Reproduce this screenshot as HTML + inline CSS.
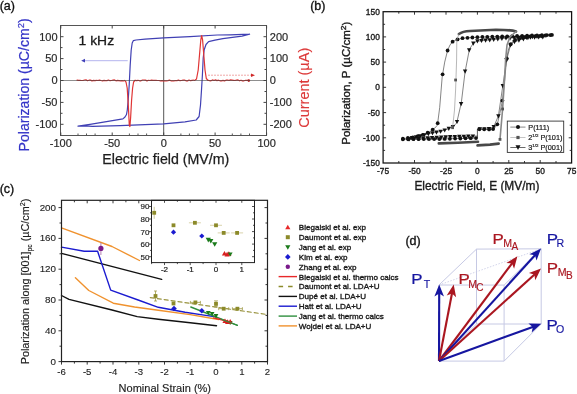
<!DOCTYPE html>
<html><head><meta charset="utf-8"><style>
html,body{margin:0;padding:0;background:#fff;width:577px;height:394px;overflow:hidden;}
svg{display:block;will-change:transform;font-family:"Liberation Sans", sans-serif;}
</style></head><body>
<svg width="577" height="394" viewBox="0 0 577 394">
<rect width="577" height="394" fill="#fff"/>
<text x="-0.3" y="10.2" font-size="12.5" text-anchor="start" fill="#111"  stroke="#111" stroke-width="0.35">(a)</text>
<line x1="163.7" y1="25.5" x2="163.7" y2="135.5" stroke="#555" stroke-width="1" />
<rect x="60.5" y="25.5" width="206.0" height="110.0" fill="none" stroke="#555" stroke-width="1"/>
<line x1="60.5" y1="124.3" x2="63.5" y2="124.3" stroke="#444" stroke-width="1" />
<line x1="266.5" y1="124.3" x2="263.5" y2="124.3" stroke="#444" stroke-width="1" />
<line x1="60.5" y1="113.3" x2="62.5" y2="113.3" stroke="#444" stroke-width="1" />
<line x1="266.5" y1="113.3" x2="264.5" y2="113.3" stroke="#444" stroke-width="1" />
<line x1="60.5" y1="102.4" x2="63.5" y2="102.4" stroke="#444" stroke-width="1" />
<line x1="266.5" y1="102.4" x2="263.5" y2="102.4" stroke="#444" stroke-width="1" />
<line x1="60.5" y1="91.5" x2="62.5" y2="91.5" stroke="#444" stroke-width="1" />
<line x1="266.5" y1="91.5" x2="264.5" y2="91.5" stroke="#444" stroke-width="1" />
<line x1="60.5" y1="80.5" x2="63.5" y2="80.5" stroke="#444" stroke-width="1" />
<line x1="266.5" y1="80.5" x2="263.5" y2="80.5" stroke="#444" stroke-width="1" />
<line x1="60.5" y1="69.5" x2="62.5" y2="69.5" stroke="#444" stroke-width="1" />
<line x1="266.5" y1="69.5" x2="264.5" y2="69.5" stroke="#444" stroke-width="1" />
<line x1="60.5" y1="58.6" x2="63.5" y2="58.6" stroke="#444" stroke-width="1" />
<line x1="266.5" y1="58.6" x2="263.5" y2="58.6" stroke="#444" stroke-width="1" />
<line x1="60.5" y1="47.6" x2="62.5" y2="47.6" stroke="#444" stroke-width="1" />
<line x1="266.5" y1="47.6" x2="264.5" y2="47.6" stroke="#444" stroke-width="1" />
<line x1="60.5" y1="36.7" x2="63.5" y2="36.7" stroke="#444" stroke-width="1" />
<line x1="266.5" y1="36.7" x2="263.5" y2="36.7" stroke="#444" stroke-width="1" />
<line x1="60.8" y1="135.5" x2="60.8" y2="132.5" stroke="#444" stroke-width="1" />
<line x1="60.8" y1="25.5" x2="60.8" y2="28.5" stroke="#444" stroke-width="1" />
<line x1="78.0" y1="135.5" x2="78.0" y2="133.5" stroke="#555" stroke-width="1" />
<line x1="86.5" y1="135.5" x2="86.5" y2="133.5" stroke="#555" stroke-width="1" />
<line x1="95.1" y1="135.5" x2="95.1" y2="133.5" stroke="#555" stroke-width="1" />
<line x1="112.2" y1="135.5" x2="112.2" y2="132.5" stroke="#444" stroke-width="1" />
<line x1="112.2" y1="25.5" x2="112.2" y2="28.5" stroke="#444" stroke-width="1" />
<line x1="129.4" y1="135.5" x2="129.4" y2="133.5" stroke="#555" stroke-width="1" />
<line x1="138.0" y1="135.5" x2="138.0" y2="133.5" stroke="#555" stroke-width="1" />
<line x1="146.6" y1="135.5" x2="146.6" y2="133.5" stroke="#555" stroke-width="1" />
<line x1="163.7" y1="135.5" x2="163.7" y2="132.5" stroke="#444" stroke-width="1" />
<line x1="163.7" y1="25.5" x2="163.7" y2="28.5" stroke="#444" stroke-width="1" />
<line x1="180.9" y1="135.5" x2="180.9" y2="133.5" stroke="#555" stroke-width="1" />
<line x1="189.4" y1="135.5" x2="189.4" y2="133.5" stroke="#555" stroke-width="1" />
<line x1="198.0" y1="135.5" x2="198.0" y2="133.5" stroke="#555" stroke-width="1" />
<line x1="215.1" y1="135.5" x2="215.1" y2="132.5" stroke="#444" stroke-width="1" />
<line x1="215.1" y1="25.5" x2="215.1" y2="28.5" stroke="#444" stroke-width="1" />
<line x1="232.3" y1="135.5" x2="232.3" y2="133.5" stroke="#555" stroke-width="1" />
<line x1="240.9" y1="135.5" x2="240.9" y2="133.5" stroke="#555" stroke-width="1" />
<line x1="249.5" y1="135.5" x2="249.5" y2="133.5" stroke="#555" stroke-width="1" />
<line x1="266.6" y1="135.5" x2="266.6" y2="132.5" stroke="#444" stroke-width="1" />
<line x1="266.6" y1="25.5" x2="266.6" y2="28.5" stroke="#444" stroke-width="1" />
<text x="57.5" y="40.5" font-size="11" text-anchor="end" fill="#2a2a2a"  stroke="#2a2a2a" stroke-width="0.2">100</text>
<text x="57.5" y="62.4" font-size="11" text-anchor="end" fill="#2a2a2a"  stroke="#2a2a2a" stroke-width="0.2">50</text>
<text x="57.5" y="84.3" font-size="11" text-anchor="end" fill="#2a2a2a"  stroke="#2a2a2a" stroke-width="0.2">0</text>
<text x="57.5" y="106.2" font-size="11" text-anchor="end" fill="#2a2a2a"  stroke="#2a2a2a" stroke-width="0.2">-50</text>
<text x="57.5" y="128.1" font-size="11" text-anchor="end" fill="#2a2a2a"  stroke="#2a2a2a" stroke-width="0.2">-100</text>
<text x="269.8" y="40.5" font-size="11" text-anchor="start" fill="#2a2a2a"  stroke="#2a2a2a" stroke-width="0.2">200</text>
<text x="269.8" y="62.4" font-size="11" text-anchor="start" fill="#2a2a2a"  stroke="#2a2a2a" stroke-width="0.2">100</text>
<text x="269.8" y="84.3" font-size="11" text-anchor="start" fill="#2a2a2a"  stroke="#2a2a2a" stroke-width="0.2">0</text>
<text x="269.8" y="106.2" font-size="11" text-anchor="start" fill="#2a2a2a"  stroke="#2a2a2a" stroke-width="0.2">-100</text>
<text x="269.8" y="128.1" font-size="11" text-anchor="start" fill="#2a2a2a"  stroke="#2a2a2a" stroke-width="0.2">-200</text>
<text x="60.8" y="147.2" font-size="11" text-anchor="middle" fill="#2a2a2a"  stroke="#2a2a2a" stroke-width="0.2">-100</text>
<text x="112.2" y="147.2" font-size="11" text-anchor="middle" fill="#2a2a2a"  stroke="#2a2a2a" stroke-width="0.2">-50</text>
<text x="163.7" y="147.2" font-size="11" text-anchor="middle" fill="#2a2a2a"  stroke="#2a2a2a" stroke-width="0.2">0</text>
<text x="215.1" y="147.2" font-size="11" text-anchor="middle" fill="#2a2a2a"  stroke="#2a2a2a" stroke-width="0.2">50</text>
<text x="266.6" y="147.2" font-size="11" text-anchor="middle" fill="#2a2a2a"  stroke="#2a2a2a" stroke-width="0.2">100</text>
<text x="165.8" y="163.6" font-size="13.8" text-anchor="middle" fill="#1e1e1e"  textLength="127" lengthAdjust="spacingAndGlyphs" stroke="#1e1e1e" stroke-width="0.25">Electric field (MV/m)</text>
<text transform="translate(29.4,84.9) rotate(-90)" font-size="14.2" text-anchor="middle" fill="#3535c8" textLength="133" lengthAdjust="spacingAndGlyphs" stroke="#3535c8" stroke-width="0.2">Polarization (µC/cm<tspan font-size="9.5" dy="-5.5">2</tspan><tspan dy="5.5">)</tspan></text>
<text transform="translate(308.6,87.8) rotate(-90)" font-size="13.8" text-anchor="middle" fill="#dd3a3a" textLength="80" lengthAdjust="spacingAndGlyphs" stroke="#dd3a3a" stroke-width="0.15">Current (µA)</text>
<text x="78.6" y="45.0" font-size="13.4" text-anchor="start" fill="#1a1a1a"  textLength="35.5" lengthAdjust="spacingAndGlyphs" stroke="#1a1a1a" stroke-width="0.3">1 kHz</text>
<polyline points="249.6,34.2 230.0,34.8 217.2,35.0 190.0,36.6 163.7,37.9 145.0,39.2 136.0,40.0 133.4,40.6 132.2,43.0 131.2,50.0 130.2,65.0 129.2,85.0 128.2,100.0 127.3,110.0 126.5,114.5 125.0,117.0 122.9,118.9 105.0,121.8 90.0,124.3 78.0,126.1 85.0,125.8 92.4,126.4 120.0,125.6 163.7,123.8 185.0,121.8 196.2,120.0 199.1,116.5 200.5,105.0 201.5,90.0 202.4,75.0 203.2,58.0 204.2,49.8 206.0,44.5 208.6,41.6 215.0,40.2 222.9,38.6 242.0,36.2 249.6,34.2" fill="none" stroke="#4040b4" stroke-width="1.2" stroke-linejoin="round" stroke-linecap="round" />
<polyline points="77.0,80.1 78.5,80.4 80.0,80.3 81.5,80.5 83.0,80.5 84.5,80.0 86.0,79.9 87.5,80.7 89.0,80.2 90.5,80.1 92.0,80.9 93.5,80.4 95.0,80.7 96.5,80.4 98.0,80.5 99.5,80.1 101.0,80.5 102.5,80.8 104.0,80.4 105.5,80.6 107.0,80.6 108.5,80.0 110.0,80.7 111.5,80.5 113.0,80.2 114.5,79.9 116.0,80.8 117.5,80.4 119.0,80.6 120.5,80.8 122.0,80.6 123.5,80.8" fill="none" stroke="#e03535" stroke-width="1.2" stroke-linejoin="round" stroke-linecap="round" />
<polyline points="124.5,80.4 126.0,82.0 127.2,88.0 128.3,105.0 129.3,125.5 129.9,126.5 130.6,118.0 131.6,100.0 132.6,88.0 133.6,82.0 135.0,80.4" fill="none" stroke="#e03535" stroke-width="1.2" stroke-linejoin="round" stroke-linecap="round" />
<polyline points="135.0,80.3 136.5,80.7 138.0,80.3 139.5,80.8 141.0,80.8 142.5,80.0 144.0,80.0 145.5,80.1 147.0,80.9 148.5,80.3 150.0,80.5 151.5,80.2 153.0,80.4 154.5,80.3 156.0,80.3 157.5,80.5 159.0,80.5 160.5,80.8 162.0,80.6 163.5,80.8 165.0,80.8 166.5,80.9 168.0,80.6 169.5,80.1 171.0,80.8 172.5,80.9 174.0,80.8 175.5,80.5 177.0,80.6 178.5,80.1 180.0,80.7 181.5,80.5 183.0,80.2 184.5,80.0 186.0,80.8 187.5,80.9 189.0,80.0 190.5,80.7 192.0,80.3 193.5,80.1" fill="none" stroke="#e03535" stroke-width="1.2" stroke-linejoin="round" stroke-linecap="round" />
<polyline points="194.5,80.4 196.5,79.0 198.2,70.0 199.5,55.0 200.8,40.0 201.6,35.5 202.6,40.0 203.8,55.0 205.0,70.0 206.3,78.5 208.0,80.4" fill="none" stroke="#e03535" stroke-width="1.2" stroke-linejoin="round" stroke-linecap="round" />
<polyline points="208.0,80.2 209.5,80.7 211.0,80.8 212.5,79.9 214.0,80.5 215.5,79.9 217.0,80.6 218.5,80.2 220.0,80.8 221.5,80.9 223.0,80.4 224.5,80.9 226.0,80.2 227.5,80.0 229.0,80.5 230.5,79.9 232.0,80.1 233.5,80.3 235.0,80.5 236.5,80.1 238.0,79.9 239.5,80.8 241.0,80.2 242.5,80.9 244.0,80.8 245.5,80.3 247.0,80.4 248.5,80.4" fill="none" stroke="#e03535" stroke-width="1.2" stroke-linejoin="round" stroke-linecap="round" />
<circle cx="248.8" cy="80.6" r="1.3" fill="#c02020"/>
<line x1="60.5" y1="80.5" x2="266.5" y2="80.5" stroke="#444" stroke-width="1" stroke-opacity="0.6"/>
<line x1="84.0" y1="60.7" x2="127.7" y2="60.7" stroke="#b4b4ee" stroke-width="1" />
<path d="M81.2,60.7 L85,58.8 L85,62.6 Z" fill="#4040b8"/>
<line x1="208.0" y1="75.2" x2="253.0" y2="75.2" stroke="#f0a8a8" stroke-width="1" stroke-dasharray="2,1"/>
<path d="M251,73.4 L255,75.2 L251,77 Z" fill="#d02828"/>
<text x="310.2" y="10.3" font-size="12.5" text-anchor="start" fill="#111"  stroke="#111" stroke-width="0.35">(b)</text>
<rect x="383.1" y="11.7" width="188.5" height="151.3" fill="none" stroke="#111" stroke-width="1.25"/>
<line x1="383.1" y1="150.4" x2="385.1" y2="150.4" stroke="#222" stroke-width="0.9" />
<line x1="571.7" y1="150.4" x2="569.7" y2="150.4" stroke="#222" stroke-width="0.9" />
<line x1="383.1" y1="137.8" x2="386.1" y2="137.8" stroke="#222" stroke-width="0.9" />
<line x1="571.7" y1="137.8" x2="568.7" y2="137.8" stroke="#222" stroke-width="0.9" />
<line x1="383.1" y1="125.2" x2="385.1" y2="125.2" stroke="#222" stroke-width="0.9" />
<line x1="571.7" y1="125.2" x2="569.7" y2="125.2" stroke="#222" stroke-width="0.9" />
<line x1="383.1" y1="112.6" x2="386.1" y2="112.6" stroke="#222" stroke-width="0.9" />
<line x1="571.7" y1="112.6" x2="568.7" y2="112.6" stroke="#222" stroke-width="0.9" />
<line x1="383.1" y1="100.0" x2="385.1" y2="100.0" stroke="#222" stroke-width="0.9" />
<line x1="571.7" y1="100.0" x2="569.7" y2="100.0" stroke="#222" stroke-width="0.9" />
<line x1="383.1" y1="87.3" x2="386.1" y2="87.3" stroke="#222" stroke-width="0.9" />
<line x1="571.7" y1="87.3" x2="568.7" y2="87.3" stroke="#222" stroke-width="0.9" />
<line x1="383.1" y1="74.7" x2="385.1" y2="74.7" stroke="#222" stroke-width="0.9" />
<line x1="571.7" y1="74.7" x2="569.7" y2="74.7" stroke="#222" stroke-width="0.9" />
<line x1="383.1" y1="62.1" x2="386.1" y2="62.1" stroke="#222" stroke-width="0.9" />
<line x1="571.7" y1="62.1" x2="568.7" y2="62.1" stroke="#222" stroke-width="0.9" />
<line x1="383.1" y1="49.5" x2="385.1" y2="49.5" stroke="#222" stroke-width="0.9" />
<line x1="571.7" y1="49.5" x2="569.7" y2="49.5" stroke="#222" stroke-width="0.9" />
<line x1="383.1" y1="36.9" x2="386.1" y2="36.9" stroke="#222" stroke-width="0.9" />
<line x1="571.7" y1="36.9" x2="568.7" y2="36.9" stroke="#222" stroke-width="0.9" />
<line x1="383.1" y1="24.3" x2="385.1" y2="24.3" stroke="#222" stroke-width="0.9" />
<line x1="571.7" y1="24.3" x2="569.7" y2="24.3" stroke="#222" stroke-width="0.9" />
<line x1="398.8" y1="163.0" x2="398.8" y2="161.0" stroke="#222" stroke-width="0.9" />
<line x1="398.8" y1="11.7" x2="398.8" y2="13.7" stroke="#222" stroke-width="0.9" />
<line x1="414.5" y1="163.0" x2="414.5" y2="160.0" stroke="#222" stroke-width="0.9" />
<line x1="414.5" y1="11.7" x2="414.5" y2="14.7" stroke="#222" stroke-width="0.9" />
<line x1="430.3" y1="163.0" x2="430.3" y2="161.0" stroke="#222" stroke-width="0.9" />
<line x1="430.3" y1="11.7" x2="430.3" y2="13.7" stroke="#222" stroke-width="0.9" />
<line x1="446.0" y1="163.0" x2="446.0" y2="160.0" stroke="#222" stroke-width="0.9" />
<line x1="446.0" y1="11.7" x2="446.0" y2="14.7" stroke="#222" stroke-width="0.9" />
<line x1="461.7" y1="163.0" x2="461.7" y2="161.0" stroke="#222" stroke-width="0.9" />
<line x1="461.7" y1="11.7" x2="461.7" y2="13.7" stroke="#222" stroke-width="0.9" />
<line x1="477.4" y1="163.0" x2="477.4" y2="160.0" stroke="#222" stroke-width="0.9" />
<line x1="477.4" y1="11.7" x2="477.4" y2="14.7" stroke="#222" stroke-width="0.9" />
<line x1="493.1" y1="163.0" x2="493.1" y2="161.0" stroke="#222" stroke-width="0.9" />
<line x1="493.1" y1="11.7" x2="493.1" y2="13.7" stroke="#222" stroke-width="0.9" />
<line x1="508.8" y1="163.0" x2="508.8" y2="160.0" stroke="#222" stroke-width="0.9" />
<line x1="508.8" y1="11.7" x2="508.8" y2="14.7" stroke="#222" stroke-width="0.9" />
<line x1="524.5" y1="163.0" x2="524.5" y2="161.0" stroke="#222" stroke-width="0.9" />
<line x1="524.5" y1="11.7" x2="524.5" y2="13.7" stroke="#222" stroke-width="0.9" />
<line x1="540.2" y1="163.0" x2="540.2" y2="160.0" stroke="#222" stroke-width="0.9" />
<line x1="540.2" y1="11.7" x2="540.2" y2="14.7" stroke="#222" stroke-width="0.9" />
<line x1="556.0" y1="163.0" x2="556.0" y2="161.0" stroke="#222" stroke-width="0.9" />
<line x1="556.0" y1="11.7" x2="556.0" y2="13.7" stroke="#222" stroke-width="0.9" />
<text x="379.8" y="166.0" font-size="8.4" text-anchor="end" fill="#1a1a1a"  stroke="#1a1a1a" stroke-width="0.35">-150</text>
<text x="379.8" y="140.8" font-size="8.4" text-anchor="end" fill="#1a1a1a"  stroke="#1a1a1a" stroke-width="0.35">-100</text>
<text x="379.8" y="115.6" font-size="8.4" text-anchor="end" fill="#1a1a1a"  stroke="#1a1a1a" stroke-width="0.35">-50</text>
<text x="379.8" y="90.3" font-size="8.4" text-anchor="end" fill="#1a1a1a"  stroke="#1a1a1a" stroke-width="0.35">0</text>
<text x="379.8" y="65.1" font-size="8.4" text-anchor="end" fill="#1a1a1a"  stroke="#1a1a1a" stroke-width="0.35">50</text>
<text x="379.8" y="39.9" font-size="8.4" text-anchor="end" fill="#1a1a1a"  stroke="#1a1a1a" stroke-width="0.35">100</text>
<text x="379.8" y="14.7" font-size="8.4" text-anchor="end" fill="#1a1a1a"  stroke="#1a1a1a" stroke-width="0.35">150</text>
<text x="383.1" y="173.8" font-size="8.4" text-anchor="middle" fill="#1a1a1a"  stroke="#1a1a1a" stroke-width="0.35">-75</text>
<text x="414.5" y="173.8" font-size="8.4" text-anchor="middle" fill="#1a1a1a"  stroke="#1a1a1a" stroke-width="0.35">-50</text>
<text x="446.0" y="173.8" font-size="8.4" text-anchor="middle" fill="#1a1a1a"  stroke="#1a1a1a" stroke-width="0.35">-25</text>
<text x="477.4" y="173.8" font-size="8.4" text-anchor="middle" fill="#1a1a1a"  stroke="#1a1a1a" stroke-width="0.35">0</text>
<text x="508.8" y="173.8" font-size="8.4" text-anchor="middle" fill="#1a1a1a"  stroke="#1a1a1a" stroke-width="0.35">25</text>
<text x="540.2" y="173.8" font-size="8.4" text-anchor="middle" fill="#1a1a1a"  stroke="#1a1a1a" stroke-width="0.35">50</text>
<text x="571.7" y="173.8" font-size="8.4" text-anchor="middle" fill="#1a1a1a"  stroke="#1a1a1a" stroke-width="0.35">75</text>
<text x="476.9" y="190.4" font-size="12.2" text-anchor="middle" fill="#1a1a1a"  textLength="125" lengthAdjust="spacingAndGlyphs" stroke="#1a1a1a" stroke-width="0.35">Electric Field, E (MV/m)</text>
<text transform="translate(350.1,83.2) rotate(-90)" font-size="10.4" text-anchor="middle" fill="#1a1a1a" textLength="123" lengthAdjust="spacingAndGlyphs" stroke="#1a1a1a" stroke-width="0.35">Polarization, P (µC/cm<tspan font-size="7.6" dy="-4.5">2</tspan><tspan dy="4.5">)</tspan></text>
<polyline points="552.8,34.9 527.7,35.7 502.5,36.4 477.4,37.2 462.3,38.2 457.5,39.4 452.6,41.6 450.0,45.0 447.7,50.0 444.7,62.1 442.2,76.9 439.7,107.5 437.4,125.2 434.7,128.2 429.6,131.7 424.6,134.2 414.5,137.0 402.0,138.8" fill="none" stroke="#333" stroke-width="0.6" stroke-linejoin="round" stroke-linecap="round" />
<polyline points="402.0,139.3 439.7,139.0 477.4,138.0" fill="none" stroke="#333" stroke-width="0.6" stroke-linejoin="round" stroke-linecap="round" />
<polyline points="477.4,129.2 492.5,129.5 495.0,127.7 497.3,124.3 499.8,113.6 502.4,100.6 504.7,79.8 506.7,58.3 508.3,50.0 510.1,45.0 513.2,41.0 517.6,38.4 527.7,36.7 552.8,34.9" fill="none" stroke="#333" stroke-width="0.6" stroke-linejoin="round" stroke-linecap="round" />
<line x1="477.4" y1="137.8" x2="477.4" y2="129.2" stroke="#333" stroke-width="0.8" />
<circle cx="551.9" cy="34.9" r="1.9" fill="#111"/>
<circle cx="546.9" cy="35.1" r="1.9" fill="#111"/>
<circle cx="541.9" cy="35.2" r="1.9" fill="#111"/>
<circle cx="537.0" cy="35.4" r="1.9" fill="#111"/>
<circle cx="532.0" cy="35.5" r="1.9" fill="#111"/>
<circle cx="527.1" cy="35.7" r="1.9" fill="#111"/>
<circle cx="522.1" cy="35.8" r="1.9" fill="#111"/>
<circle cx="517.1" cy="36.0" r="1.9" fill="#111"/>
<circle cx="512.2" cy="36.1" r="1.9" fill="#111"/>
<circle cx="507.2" cy="36.3" r="1.9" fill="#111"/>
<circle cx="502.2" cy="36.4" r="1.9" fill="#111"/>
<circle cx="497.3" cy="36.6" r="1.9" fill="#111"/>
<circle cx="492.3" cy="36.7" r="1.9" fill="#111"/>
<circle cx="487.3" cy="36.9" r="1.9" fill="#111"/>
<circle cx="482.4" cy="37.0" r="1.9" fill="#111"/>
<circle cx="477.4" cy="37.2" r="1.9" fill="#111"/>
<circle cx="472.4" cy="37.5" r="1.9" fill="#111"/>
<circle cx="467.5" cy="37.8" r="1.9" fill="#111"/>
<circle cx="462.5" cy="38.2" r="1.9" fill="#111"/>
<circle cx="457.5" cy="39.4" r="1.9" fill="#111"/>
<circle cx="452.6" cy="41.7" r="1.9" fill="#111"/>
<circle cx="447.6" cy="50.5" r="1.9" fill="#111"/>
<circle cx="442.6" cy="74.3" r="1.9" fill="#111"/>
<circle cx="437.7" cy="123.2" r="1.9" fill="#111"/>
<circle cx="432.7" cy="129.6" r="1.9" fill="#111"/>
<circle cx="427.7" cy="132.7" r="1.9" fill="#111"/>
<circle cx="422.8" cy="134.8" r="1.9" fill="#111"/>
<circle cx="417.8" cy="136.1" r="1.9" fill="#111"/>
<circle cx="412.9" cy="137.3" r="1.9" fill="#111"/>
<circle cx="407.9" cy="138.0" r="1.9" fill="#111"/>
<circle cx="402.9" cy="138.7" r="1.9" fill="#111"/>
<circle cx="402.9" cy="139.3" r="1.9" fill="#111"/>
<circle cx="408.1" cy="139.3" r="1.9" fill="#111"/>
<circle cx="413.4" cy="139.2" r="1.9" fill="#111"/>
<circle cx="418.6" cy="139.2" r="1.9" fill="#111"/>
<circle cx="423.8" cy="139.1" r="1.9" fill="#111"/>
<circle cx="429.0" cy="139.1" r="1.9" fill="#111"/>
<circle cx="434.2" cy="139.1" r="1.9" fill="#111"/>
<circle cx="439.4" cy="139.0" r="1.9" fill="#111"/>
<circle cx="444.7" cy="138.9" r="1.9" fill="#111"/>
<circle cx="449.9" cy="138.8" r="1.9" fill="#111"/>
<circle cx="455.1" cy="138.6" r="1.9" fill="#111"/>
<circle cx="460.3" cy="138.5" r="1.9" fill="#111"/>
<circle cx="465.5" cy="138.3" r="1.9" fill="#111"/>
<circle cx="470.7" cy="138.2" r="1.9" fill="#111"/>
<circle cx="476.0" cy="138.1" r="1.9" fill="#111"/>
<circle cx="479.3" cy="129.2" r="1.9" fill="#111"/>
<circle cx="484.2" cy="129.3" r="1.9" fill="#111"/>
<circle cx="489.1" cy="129.4" r="1.9" fill="#111"/>
<circle cx="493.1" cy="129.0" r="1.9" fill="#111"/>
<circle cx="497.3" cy="124.3" r="1.9" fill="#111"/>
<circle cx="502.4" cy="100.6" r="1.9" fill="#111"/>
<circle cx="506.7" cy="58.3" r="1.9" fill="#111"/>
<circle cx="510.7" cy="44.2" r="1.9" fill="#111"/>
<circle cx="515.1" cy="39.9" r="1.9" fill="#111"/>
<circle cx="520.1" cy="38.0" r="1.9" fill="#111"/>
<circle cx="525.2" cy="37.1" r="1.9" fill="#111"/>
<circle cx="530.2" cy="36.5" r="1.9" fill="#111"/>
<circle cx="535.2" cy="36.1" r="1.9" fill="#111"/>
<circle cx="540.2" cy="35.8" r="1.9" fill="#111"/>
<circle cx="545.3" cy="35.4" r="1.9" fill="#111"/>
<circle cx="550.3" cy="35.1" r="1.9" fill="#111"/>
<polyline points="546.5,36.9 527.7,37.4 505.6,38.2 490.0,39.9 477.4,41.1 473.5,43.0 469.4,49.3 465.1,71.7 461.3,102.8 456.7,123.0 452.5,127.0 446.0,129.7 439.7,131.7 428.9,133.6 419.6,136.3 408.3,138.5" fill="none" stroke="#333" stroke-width="0.6" stroke-linejoin="round" stroke-linecap="round" />
<polyline points="408.3,139.0 427.1,138.0 452.3,136.8 477.4,136.0" fill="none" stroke="#333" stroke-width="0.6" stroke-linejoin="round" stroke-linecap="round" />
<polyline points="477.4,129.2 490.0,128.7 493.7,126.7 498.4,116.0 502.8,85.8 506.6,60.1 510.5,45.0 512.6,42.5 521.4,39.4 532.1,36.9 544.0,35.9" fill="none" stroke="#333" stroke-width="0.6" stroke-linejoin="round" stroke-linecap="round" />
<path d="M544.6,136.8 L549.0,136.8 L546.8,141.0 Z" fill="#111"/>
<path d="M540.6,35.3 L545.0,35.3 L542.8,39.4 Z" fill="#111"/>
<path d="M536.5,35.4 L540.9,35.4 L538.7,39.6 Z" fill="#111"/>
<path d="M532.4,35.5 L536.8,35.5 L534.6,39.7 Z" fill="#111"/>
<path d="M528.3,35.6 L532.7,35.6 L530.5,39.8 Z" fill="#111"/>
<path d="M524.2,35.7 L528.6,35.7 L526.4,39.9 Z" fill="#111"/>
<path d="M520.1,35.8 L524.5,35.8 L522.3,40.0 Z" fill="#111"/>
<path d="M516.1,36.0 L520.5,36.0 L518.3,40.2 Z" fill="#111"/>
<path d="M512.0,36.1 L516.4,36.1 L514.2,40.3 Z" fill="#111"/>
<path d="M507.9,36.3 L512.3,36.3 L510.1,40.4 Z" fill="#111"/>
<path d="M503.8,36.4 L508.2,36.4 L506.0,40.6 Z" fill="#111"/>
<path d="M499.7,36.8 L504.1,36.8 L501.9,41.0 Z" fill="#111"/>
<path d="M495.6,37.3 L500.0,37.3 L497.8,41.5 Z" fill="#111"/>
<path d="M491.5,37.8 L495.9,37.8 L493.7,41.9 Z" fill="#111"/>
<path d="M487.5,38.2 L491.9,38.2 L489.7,42.4 Z" fill="#111"/>
<path d="M483.4,38.6 L487.8,38.6 L485.6,42.8 Z" fill="#111"/>
<path d="M479.3,39.0 L483.7,39.0 L481.5,43.1 Z" fill="#111"/>
<path d="M475.2,39.3 L479.6,39.3 L477.4,43.5 Z" fill="#111"/>
<path d="M471.1,41.5 L475.5,41.5 L473.3,45.7 Z" fill="#111"/>
<path d="M467.0,48.2 L471.4,48.2 L469.2,52.4 Z" fill="#111"/>
<path d="M462.9,69.6 L467.3,69.6 L465.1,73.8 Z" fill="#111"/>
<path d="M458.9,102.1 L463.3,102.1 L461.1,106.3 Z" fill="#111"/>
<path d="M454.8,119.9 L459.2,119.9 L457.0,124.1 Z" fill="#111"/>
<path d="M450.7,124.9 L455.1,124.9 L452.9,129.0 Z" fill="#111"/>
<path d="M446.6,126.8 L451.0,126.8 L448.8,131.0 Z" fill="#111"/>
<path d="M442.5,128.4 L446.9,128.4 L444.7,132.5 Z" fill="#111"/>
<path d="M438.4,129.7 L442.8,129.7 L440.6,133.8 Z" fill="#111"/>
<path d="M434.3,130.5 L438.7,130.5 L436.5,134.7 Z" fill="#111"/>
<path d="M430.3,131.2 L434.7,131.2 L432.5,135.4 Z" fill="#111"/>
<path d="M426.2,132.0 L430.6,132.0 L428.4,136.2 Z" fill="#111"/>
<path d="M422.1,133.2 L426.5,133.2 L424.3,137.3 Z" fill="#111"/>
<path d="M418.0,134.3 L422.4,134.3 L420.2,138.5 Z" fill="#111"/>
<path d="M413.9,135.2 L418.3,135.2 L416.1,139.4 Z" fill="#111"/>
<path d="M409.8,136.0 L414.2,136.0 L412.0,140.2 Z" fill="#111"/>
<path d="M407.3,137.2 L411.7,137.2 L409.5,141.4 Z" fill="#111"/>
<path d="M411.8,137.0 L416.2,137.0 L414.0,141.2 Z" fill="#111"/>
<path d="M416.4,136.7 L420.8,136.7 L418.6,140.9 Z" fill="#111"/>
<path d="M420.9,136.5 L425.3,136.5 L423.1,140.7 Z" fill="#111"/>
<path d="M425.4,136.2 L429.8,136.2 L427.6,140.4 Z" fill="#111"/>
<path d="M429.9,136.0 L434.3,136.0 L432.1,140.2 Z" fill="#111"/>
<path d="M434.5,135.8 L438.9,135.8 L436.7,140.0 Z" fill="#111"/>
<path d="M439.0,135.6 L443.4,135.6 L441.2,139.7 Z" fill="#111"/>
<path d="M443.5,135.3 L447.9,135.3 L445.7,139.5 Z" fill="#111"/>
<path d="M448.0,135.1 L452.4,135.1 L450.2,139.3 Z" fill="#111"/>
<path d="M452.6,134.9 L457.0,134.9 L454.8,139.1 Z" fill="#111"/>
<path d="M457.1,134.8 L461.5,134.8 L459.3,139.0 Z" fill="#111"/>
<path d="M461.6,134.7 L466.0,134.7 L463.8,138.8 Z" fill="#111"/>
<path d="M466.1,134.5 L470.5,134.5 L468.3,138.7 Z" fill="#111"/>
<path d="M470.7,134.4 L475.1,134.4 L472.9,138.6 Z" fill="#111"/>
<path d="M477.7,127.3 L482.1,127.3 L479.9,131.5 Z" fill="#111"/>
<path d="M482.2,127.2 L486.6,127.2 L484.4,131.3 Z" fill="#111"/>
<path d="M486.8,127.0 L491.2,127.0 L489.0,131.2 Z" fill="#111"/>
<path d="M491.5,124.9 L495.9,124.9 L493.7,129.1 Z" fill="#111"/>
<path d="M496.2,114.2 L500.6,114.2 L498.4,118.4 Z" fill="#111"/>
<path d="M500.6,84.1 L505.0,84.1 L502.8,88.3 Z" fill="#111"/>
<path d="M504.4,58.4 L508.8,58.4 L506.6,62.5 Z" fill="#111"/>
<path d="M508.3,43.2 L512.7,43.2 L510.5,47.4 Z" fill="#111"/>
<path d="M512.3,40.1 L516.7,40.1 L514.5,44.2 Z" fill="#111"/>
<path d="M516.7,38.5 L521.1,38.5 L518.9,42.7 Z" fill="#111"/>
<path d="M521.2,37.2 L525.6,37.2 L523.4,41.4 Z" fill="#111"/>
<path d="M525.7,36.1 L530.1,36.1 L527.9,40.3 Z" fill="#111"/>
<path d="M530.3,35.1 L534.7,35.1 L532.5,39.3 Z" fill="#111"/>
<path d="M534.8,34.7 L539.2,34.7 L537.0,38.9 Z" fill="#111"/>
<path d="M539.3,34.4 L543.7,34.4 L541.5,38.5 Z" fill="#111"/>
<path d="M458.9,34 C462,31.8 466,31.2 470,31 L495.9,29.8 C505,29.8 512,30 516,31.5" fill="none" stroke="#484848" stroke-width="2.6" stroke-linecap="round"/>
<polyline points="438.8,143.4 458.0,142.8 478.0,141.8" fill="none" stroke="#484848" stroke-width="2.6" stroke-linejoin="round" stroke-linecap="round" />
<polyline points="477.5,145.4 490.0,144.6 498.7,143.6" fill="none" stroke="#484848" stroke-width="2.6" stroke-linejoin="round" stroke-linecap="round" />
<polyline points="458.9,34.0 456.8,40.0 456.6,60.0 455.6,90.0 454.5,110.0 452.6,127.7" fill="none" stroke="#999" stroke-width="0.7" stroke-linejoin="round" stroke-linecap="round" />
<polyline points="500.0,139.4 502.6,109.0 504.5,80.0 505.6,60.0 507.0,45.0 510.0,37.0 516.0,31.5" fill="none" stroke="#888" stroke-width="1.6" stroke-linejoin="round" stroke-linecap="round" />
<rect x="454.2" y="78.6" width="2.8" height="2.8" fill="#555"/>
<rect x="451.2" y="126.3" width="2.8" height="2.8" fill="#555"/>
<rect x="498.6" y="138.0" width="2.8" height="2.8" fill="#555"/>
<rect x="501.2" y="107.6" width="2.8" height="2.8" fill="#555"/>
<rect x="507.3" y="121.1" width="56.4" height="31.3" fill="#fff" stroke="#333" stroke-width="0.9"/>
<line x1="510.3" y1="127.1" x2="525.5" y2="127.1" stroke="#555" stroke-width="0.7" />
<circle cx="518.0" cy="127.1" r="2.0" fill="#111"/>
<line x1="510.3" y1="137.5" x2="525.5" y2="137.5" stroke="#aaa" stroke-width="0.7" />
<rect x="516.4" y="135.9" width="3.2" height="3.2" fill="#555"/>
<line x1="510.3" y1="147.5" x2="525.5" y2="147.5" stroke="#444" stroke-width="0.8" />
<path d="M515.5,145.3 L520.5,145.3 L518.0,150.1 Z" fill="#111"/>
<text x="528.3" y="129.7" font-size="7.3" text-anchor="start" fill="#1a1a1a"  stroke="#1a1a1a" stroke-width="0.2">P(111)</text>
<text x="528.3" y="140.1" font-size="7.3" fill="#1a1a1a" stroke="#1a1a1a" stroke-width="0.2">2<tspan font-size="4.4" dy="-3">1/2</tspan><tspan dy="3"> P(101)</tspan></text>
<text x="528.3" y="150.1" font-size="7.3" fill="#1a1a1a" stroke="#1a1a1a" stroke-width="0.2">3<tspan font-size="4.4" dy="-3">1/2</tspan><tspan dy="3"> P(001)</tspan></text>
<text x="-0.3" y="192.9" font-size="12.5" text-anchor="start" fill="#111"  stroke="#111" stroke-width="0.35">(c)</text>
<line x1="61.5" y1="361.6" x2="61.5" y2="364.6" stroke="#222" stroke-width="0.9" />
<line x1="61.5" y1="200.3" x2="61.5" y2="203.3" stroke="#222" stroke-width="0.9" />
<line x1="74.4" y1="361.6" x2="74.4" y2="363.6" stroke="#222" stroke-width="0.9" />
<line x1="74.4" y1="200.3" x2="74.4" y2="202.3" stroke="#222" stroke-width="0.9" />
<line x1="87.2" y1="361.6" x2="87.2" y2="364.6" stroke="#222" stroke-width="0.9" />
<line x1="87.2" y1="200.3" x2="87.2" y2="203.3" stroke="#222" stroke-width="0.9" />
<line x1="100.1" y1="361.6" x2="100.1" y2="363.6" stroke="#222" stroke-width="0.9" />
<line x1="100.1" y1="200.3" x2="100.1" y2="202.3" stroke="#222" stroke-width="0.9" />
<line x1="113.0" y1="361.6" x2="113.0" y2="364.6" stroke="#222" stroke-width="0.9" />
<line x1="113.0" y1="200.3" x2="113.0" y2="203.3" stroke="#222" stroke-width="0.9" />
<line x1="125.9" y1="361.6" x2="125.9" y2="363.6" stroke="#222" stroke-width="0.9" />
<line x1="125.9" y1="200.3" x2="125.9" y2="202.3" stroke="#222" stroke-width="0.9" />
<line x1="138.8" y1="361.6" x2="138.8" y2="364.6" stroke="#222" stroke-width="0.9" />
<line x1="138.8" y1="200.3" x2="138.8" y2="203.3" stroke="#222" stroke-width="0.9" />
<line x1="151.6" y1="361.6" x2="151.6" y2="363.6" stroke="#222" stroke-width="0.9" />
<line x1="164.5" y1="361.6" x2="164.5" y2="364.6" stroke="#222" stroke-width="0.9" />
<line x1="177.4" y1="361.6" x2="177.4" y2="363.6" stroke="#222" stroke-width="0.9" />
<line x1="190.2" y1="361.6" x2="190.2" y2="364.6" stroke="#222" stroke-width="0.9" />
<line x1="203.1" y1="361.6" x2="203.1" y2="363.6" stroke="#222" stroke-width="0.9" />
<line x1="216.0" y1="361.6" x2="216.0" y2="364.6" stroke="#222" stroke-width="0.9" />
<line x1="228.9" y1="361.6" x2="228.9" y2="363.6" stroke="#222" stroke-width="0.9" />
<line x1="241.8" y1="361.6" x2="241.8" y2="364.6" stroke="#222" stroke-width="0.9" />
<line x1="254.6" y1="361.6" x2="254.6" y2="363.6" stroke="#222" stroke-width="0.9" />
<line x1="267.5" y1="361.6" x2="267.5" y2="364.6" stroke="#222" stroke-width="0.9" />
<line x1="267.5" y1="200.3" x2="267.5" y2="203.3" stroke="#222" stroke-width="0.9" />
<line x1="61.5" y1="361.6" x2="58.5" y2="361.6" stroke="#222" stroke-width="0.9" />
<line x1="267.5" y1="361.6" x2="264.5" y2="361.6" stroke="#222" stroke-width="0.9" />
<line x1="61.5" y1="346.2" x2="59.5" y2="346.2" stroke="#222" stroke-width="0.9" />
<line x1="267.5" y1="346.2" x2="265.5" y2="346.2" stroke="#222" stroke-width="0.9" />
<line x1="61.5" y1="330.8" x2="58.5" y2="330.8" stroke="#222" stroke-width="0.9" />
<line x1="267.5" y1="330.8" x2="264.5" y2="330.8" stroke="#222" stroke-width="0.9" />
<line x1="61.5" y1="315.4" x2="59.5" y2="315.4" stroke="#222" stroke-width="0.9" />
<line x1="267.5" y1="315.4" x2="265.5" y2="315.4" stroke="#222" stroke-width="0.9" />
<line x1="61.5" y1="300.0" x2="58.5" y2="300.0" stroke="#222" stroke-width="0.9" />
<line x1="267.5" y1="300.0" x2="264.5" y2="300.0" stroke="#222" stroke-width="0.9" />
<line x1="61.5" y1="284.6" x2="59.5" y2="284.6" stroke="#222" stroke-width="0.9" />
<line x1="267.5" y1="284.6" x2="265.5" y2="284.6" stroke="#222" stroke-width="0.9" />
<line x1="61.5" y1="269.2" x2="58.5" y2="269.2" stroke="#222" stroke-width="0.9" />
<line x1="267.5" y1="269.2" x2="264.5" y2="269.2" stroke="#222" stroke-width="0.9" />
<line x1="61.5" y1="253.8" x2="59.5" y2="253.8" stroke="#222" stroke-width="0.9" />
<line x1="267.5" y1="253.8" x2="265.5" y2="253.8" stroke="#222" stroke-width="0.9" />
<line x1="61.5" y1="238.4" x2="58.5" y2="238.4" stroke="#222" stroke-width="0.9" />
<line x1="267.5" y1="238.4" x2="264.5" y2="238.4" stroke="#222" stroke-width="0.9" />
<line x1="61.5" y1="223.0" x2="59.5" y2="223.0" stroke="#222" stroke-width="0.9" />
<line x1="267.5" y1="223.0" x2="265.5" y2="223.0" stroke="#222" stroke-width="0.9" />
<line x1="61.5" y1="207.6" x2="58.5" y2="207.6" stroke="#222" stroke-width="0.9" />
<line x1="267.5" y1="207.6" x2="264.5" y2="207.6" stroke="#222" stroke-width="0.9" />
<text x="56.0" y="364.6" font-size="9.8" text-anchor="end" fill="#1e1e1e"  stroke="#1e1e1e" stroke-width="0.12">0</text>
<text x="56.0" y="333.8" font-size="9.8" text-anchor="end" fill="#1e1e1e"  stroke="#1e1e1e" stroke-width="0.12">40</text>
<text x="56.0" y="303.0" font-size="9.8" text-anchor="end" fill="#1e1e1e"  stroke="#1e1e1e" stroke-width="0.12">80</text>
<text x="56.0" y="272.2" font-size="9.8" text-anchor="end" fill="#1e1e1e"  stroke="#1e1e1e" stroke-width="0.12">120</text>
<text x="56.0" y="241.4" font-size="9.8" text-anchor="end" fill="#1e1e1e"  stroke="#1e1e1e" stroke-width="0.12">160</text>
<text x="56.0" y="210.6" font-size="9.8" text-anchor="end" fill="#1e1e1e"  stroke="#1e1e1e" stroke-width="0.12">200</text>
<text x="61.5" y="375.0" font-size="9.6" text-anchor="middle" fill="#1e1e1e"  stroke="#1e1e1e" stroke-width="0.12">-6</text>
<text x="87.2" y="375.0" font-size="9.6" text-anchor="middle" fill="#1e1e1e"  stroke="#1e1e1e" stroke-width="0.12">-5</text>
<text x="113.0" y="375.0" font-size="9.6" text-anchor="middle" fill="#1e1e1e"  stroke="#1e1e1e" stroke-width="0.12">-4</text>
<text x="138.8" y="375.0" font-size="9.6" text-anchor="middle" fill="#1e1e1e"  stroke="#1e1e1e" stroke-width="0.12">-3</text>
<text x="164.5" y="375.0" font-size="9.6" text-anchor="middle" fill="#1e1e1e"  stroke="#1e1e1e" stroke-width="0.12">-2</text>
<text x="190.2" y="375.0" font-size="9.6" text-anchor="middle" fill="#1e1e1e"  stroke="#1e1e1e" stroke-width="0.12">-1</text>
<text x="216.0" y="375.0" font-size="9.6" text-anchor="middle" fill="#1e1e1e"  stroke="#1e1e1e" stroke-width="0.12">0</text>
<text x="241.8" y="375.0" font-size="9.6" text-anchor="middle" fill="#1e1e1e"  stroke="#1e1e1e" stroke-width="0.12">1</text>
<text x="267.5" y="375.0" font-size="9.6" text-anchor="middle" fill="#1e1e1e"  stroke="#1e1e1e" stroke-width="0.12">2</text>
<text x="164.8" y="391.6" font-size="10.4" text-anchor="middle" fill="#1e1e1e"  textLength="92.5" lengthAdjust="spacingAndGlyphs" stroke="#1e1e1e" stroke-width="0.15">Nominal Strain (%)</text>
<text transform="translate(29.2,281.5) rotate(-90)" font-size="10.3" text-anchor="middle" fill="#1e1e1e" textLength="165.5" lengthAdjust="spacingAndGlyphs" stroke="#1e1e1e" stroke-width="0.15">Polarization along [001]<tspan font-size="6.5" dy="2.5">pc</tspan><tspan dy="-2.5"> (µC/cm</tspan><tspan font-size="6.8" dy="-4">2</tspan><tspan dy="4">)</tspan></text>
<polyline points="61.5,227.9 112.0,246.5 139.5,260.5" fill="none" stroke="#f0922e" stroke-width="1.4" stroke-linejoin="round" stroke-linecap="round" />
<polyline points="61.5,253.4 161.7,279.4" fill="none" stroke="#111" stroke-width="1.4" stroke-linejoin="round" stroke-linecap="round" />
<polyline points="61.5,247.1 84.2,251.3 97.6,251.3 110.7,290.1 139.5,300.5 158.3,307.3 185.1,312.3 205.7,315.4 216.0,316.8" fill="none" stroke="#1b1bd0" stroke-width="1.4" stroke-linejoin="round" stroke-linecap="round" />
<polyline points="75.4,277.7 88.8,290.5 113.3,303.2 134.6,307.0 158.3,310.3 190.2,314.6 218.6,319.5" fill="none" stroke="#f0922e" stroke-width="1.4" stroke-linejoin="round" stroke-linecap="round" />
<polyline points="61.5,295.5 69.0,299.4 112.0,310.0 137.2,316.6 158.3,319.2 190.2,322.7 216.5,325.7" fill="none" stroke="#111" stroke-width="1.4" stroke-linejoin="round" stroke-linecap="round" />
<polyline points="150.3,297.6 267.5,314.6" fill="none" stroke="#9a9440" stroke-width="1.2" stroke-linejoin="round" stroke-linecap="round" stroke-dasharray="4,3"/>
<polyline points="190.8,307.0 237.4,325.3" fill="none" stroke="#2f8f3f" stroke-width="1.4" stroke-linejoin="round" stroke-linecap="round" />
<polyline points="213.4,317.9 227.6,321.2" fill="none" stroke="#e8282a" stroke-width="1.4" stroke-linejoin="round" stroke-linecap="round" />
<line x1="100.9" y1="242.6" x2="100.9" y2="255.0" stroke="#a060a0" stroke-width="0.8" />
<circle cx="100.9" cy="248.4" r="2.6" fill="#7a1a8a"/>
<line x1="155.5" y1="291.0" x2="155.5" y2="301.0" stroke="#a09a48" stroke-width="0.8" />
<line x1="154.0" y1="291.0" x2="157.0" y2="291.0" stroke="#a09a48" stroke-width="0.8" />
<line x1="154.0" y1="301.0" x2="157.0" y2="301.0" stroke="#a09a48" stroke-width="0.8" />
<rect x="153.6" y="294.1" width="3.8" height="3.8" fill="#8c8a2a"/>
<rect x="171.6" y="301.6" width="3.8" height="3.8" fill="#8c8a2a"/>
<line x1="190.4" y1="302.4" x2="200.4" y2="302.4" stroke="#a09a48" stroke-width="0.8" />
<line x1="190.4" y1="300.9" x2="190.4" y2="303.9" stroke="#a09a48" stroke-width="0.8" />
<line x1="200.4" y1="300.9" x2="200.4" y2="303.9" stroke="#a09a48" stroke-width="0.8" />
<rect x="193.5" y="300.5" width="3.8" height="3.8" fill="#8c8a2a"/>
<line x1="216.0" y1="300.9" x2="216.0" y2="306.9" stroke="#a09a48" stroke-width="0.8" />
<line x1="214.0" y1="300.9" x2="218.0" y2="300.9" stroke="#a09a48" stroke-width="0.8" />
<line x1="214.0" y1="306.9" x2="218.0" y2="306.9" stroke="#a09a48" stroke-width="0.8" />
<rect x="214.1" y="302.0" width="3.8" height="3.8" fill="#8c8a2a"/>
<line x1="218.7" y1="308.7" x2="228.7" y2="308.7" stroke="#a09a48" stroke-width="0.8" />
<line x1="218.7" y1="307.2" x2="218.7" y2="310.2" stroke="#a09a48" stroke-width="0.8" />
<line x1="228.7" y1="307.2" x2="228.7" y2="310.2" stroke="#a09a48" stroke-width="0.8" />
<rect x="221.8" y="306.8" width="3.8" height="3.8" fill="#8c8a2a"/>
<line x1="232.4" y1="308.7" x2="242.4" y2="308.7" stroke="#a09a48" stroke-width="0.8" />
<line x1="232.4" y1="307.2" x2="232.4" y2="310.2" stroke="#a09a48" stroke-width="0.8" />
<line x1="242.4" y1="307.2" x2="242.4" y2="310.2" stroke="#a09a48" stroke-width="0.8" />
<rect x="235.5" y="306.8" width="3.8" height="3.8" fill="#8c8a2a"/>
<path d="M174.0,305.7 L176.8,308.5 L174.0,311.3 L171.2,308.5 Z" fill="#1b1bd0"/>
<path d="M201.8,307.9 L204.6,310.7 L201.8,313.5 L199.0,310.7 Z" fill="#1b1bd0"/>
<path d="M205.9,310.9 L210.7,310.9 L208.3,315.1 Z" fill="#1a7a1a"/>
<path d="M209.7,312.1 L214.5,312.1 L212.1,316.3 Z" fill="#1a7a1a"/>
<path d="M213.6,314.0 L218.4,314.0 L216.0,318.2 Z" fill="#1a7a1a"/>
<path d="M227.8,320.9 L232.6,320.9 L230.2,325.1 Z" fill="#1a7a1a"/>
<path d="M222.4,323.1 L227.6,323.1 L225.0,318.6 Z" fill="#d82020"/>
<path d="M225.0,323.9 L230.2,323.9 L227.6,319.3 Z" fill="#d82020"/>
<path d="M227.6,323.7 L232.8,323.7 L230.2,319.1 Z" fill="#d82020"/>
<polyline points="221.2,319.2 237.4,325.3" fill="none" stroke="#2f8f3f" stroke-width="1.2" stroke-linejoin="round" stroke-linecap="round" />
<rect x="151.5" y="200.3" width="103.0" height="62.3" fill="#fff" stroke="#222" stroke-width="1"/>
<line x1="151.5" y1="256.7" x2="149.0" y2="256.7" stroke="#222" stroke-width="0.8" />
<line x1="254.5" y1="256.7" x2="252.0" y2="256.7" stroke="#222" stroke-width="0.8" />
<line x1="151.5" y1="250.4" x2="150.0" y2="250.4" stroke="#222" stroke-width="0.8" />
<line x1="254.5" y1="250.4" x2="253.0" y2="250.4" stroke="#222" stroke-width="0.8" />
<line x1="151.5" y1="244.1" x2="149.0" y2="244.1" stroke="#222" stroke-width="0.8" />
<line x1="254.5" y1="244.1" x2="252.0" y2="244.1" stroke="#222" stroke-width="0.8" />
<line x1="151.5" y1="237.9" x2="150.0" y2="237.9" stroke="#222" stroke-width="0.8" />
<line x1="254.5" y1="237.9" x2="253.0" y2="237.9" stroke="#222" stroke-width="0.8" />
<line x1="151.5" y1="231.6" x2="149.0" y2="231.6" stroke="#222" stroke-width="0.8" />
<line x1="254.5" y1="231.6" x2="252.0" y2="231.6" stroke="#222" stroke-width="0.8" />
<line x1="151.5" y1="225.3" x2="150.0" y2="225.3" stroke="#222" stroke-width="0.8" />
<line x1="254.5" y1="225.3" x2="253.0" y2="225.3" stroke="#222" stroke-width="0.8" />
<line x1="151.5" y1="219.0" x2="149.0" y2="219.0" stroke="#222" stroke-width="0.8" />
<line x1="254.5" y1="219.0" x2="252.0" y2="219.0" stroke="#222" stroke-width="0.8" />
<line x1="151.5" y1="212.8" x2="150.0" y2="212.8" stroke="#222" stroke-width="0.8" />
<line x1="254.5" y1="212.8" x2="253.0" y2="212.8" stroke="#222" stroke-width="0.8" />
<line x1="151.5" y1="206.5" x2="149.0" y2="206.5" stroke="#222" stroke-width="0.8" />
<line x1="254.5" y1="206.5" x2="252.0" y2="206.5" stroke="#222" stroke-width="0.8" />
<text x="149.4" y="259.6" font-size="8" text-anchor="end" fill="#1a1a1a"  stroke="#1a1a1a" stroke-width="0.15">50</text>
<text x="149.4" y="247.0" font-size="8" text-anchor="end" fill="#1a1a1a"  stroke="#1a1a1a" stroke-width="0.15">60</text>
<text x="149.4" y="234.5" font-size="8" text-anchor="end" fill="#1a1a1a"  stroke="#1a1a1a" stroke-width="0.15">70</text>
<text x="149.4" y="221.9" font-size="8" text-anchor="end" fill="#1a1a1a"  stroke="#1a1a1a" stroke-width="0.15">80</text>
<text x="149.4" y="209.4" font-size="8" text-anchor="end" fill="#1a1a1a"  stroke="#1a1a1a" stroke-width="0.15">90</text>
<line x1="151.6" y1="262.6" x2="151.6" y2="264.1" stroke="#222" stroke-width="0.8" />
<line x1="151.6" y1="200.3" x2="151.6" y2="201.8" stroke="#222" stroke-width="0.8" />
<line x1="164.5" y1="262.6" x2="164.5" y2="265.1" stroke="#222" stroke-width="0.8" />
<line x1="164.5" y1="200.3" x2="164.5" y2="202.8" stroke="#222" stroke-width="0.8" />
<line x1="177.4" y1="262.6" x2="177.4" y2="264.1" stroke="#222" stroke-width="0.8" />
<line x1="177.4" y1="200.3" x2="177.4" y2="201.8" stroke="#222" stroke-width="0.8" />
<line x1="190.2" y1="262.6" x2="190.2" y2="265.1" stroke="#222" stroke-width="0.8" />
<line x1="190.2" y1="200.3" x2="190.2" y2="202.8" stroke="#222" stroke-width="0.8" />
<line x1="203.1" y1="262.6" x2="203.1" y2="264.1" stroke="#222" stroke-width="0.8" />
<line x1="203.1" y1="200.3" x2="203.1" y2="201.8" stroke="#222" stroke-width="0.8" />
<line x1="216.0" y1="262.6" x2="216.0" y2="265.1" stroke="#222" stroke-width="0.8" />
<line x1="216.0" y1="200.3" x2="216.0" y2="202.8" stroke="#222" stroke-width="0.8" />
<line x1="228.9" y1="262.6" x2="228.9" y2="264.1" stroke="#222" stroke-width="0.8" />
<line x1="228.9" y1="200.3" x2="228.9" y2="201.8" stroke="#222" stroke-width="0.8" />
<line x1="241.8" y1="262.6" x2="241.8" y2="265.1" stroke="#222" stroke-width="0.8" />
<line x1="241.8" y1="200.3" x2="241.8" y2="202.8" stroke="#222" stroke-width="0.8" />
<text x="164.5" y="271.6" font-size="8" text-anchor="middle" fill="#1a1a1a"  stroke="#1a1a1a" stroke-width="0.2">-2</text>
<text x="190.2" y="271.6" font-size="8" text-anchor="middle" fill="#1a1a1a"  stroke="#1a1a1a" stroke-width="0.2">-1</text>
<text x="216.0" y="271.6" font-size="8" text-anchor="middle" fill="#1a1a1a"  stroke="#1a1a1a" stroke-width="0.2">0</text>
<text x="241.8" y="271.6" font-size="8" text-anchor="middle" fill="#1a1a1a"  stroke="#1a1a1a" stroke-width="0.2">1</text>
<line x1="154.2" y1="206.8" x2="154.2" y2="218.8" stroke="#b8b070" stroke-width="0.7" />
<rect x="152.3" y="210.9" width="3.8" height="3.8" fill="#8c8a2a"/>
<rect x="171.6" y="223.4" width="3.8" height="3.8" fill="#8c8a2a"/>
<line x1="188.9" y1="222.8" x2="200.9" y2="222.8" stroke="#c8c088" stroke-width="0.7" />
<rect x="193.0" y="220.9" width="3.8" height="3.8" fill="#8c8a2a"/>
<line x1="210.0" y1="225.3" x2="222.0" y2="225.3" stroke="#c8c088" stroke-width="0.7" />
<rect x="214.1" y="223.4" width="3.8" height="3.8" fill="#8c8a2a"/>
<line x1="217.7" y1="232.9" x2="229.7" y2="232.9" stroke="#c8c088" stroke-width="0.7" />
<rect x="221.8" y="231.0" width="3.8" height="3.8" fill="#8c8a2a"/>
<line x1="231.1" y1="232.9" x2="243.1" y2="232.9" stroke="#c8c088" stroke-width="0.7" />
<rect x="235.2" y="231.0" width="3.8" height="3.8" fill="#8c8a2a"/>
<path d="M173.5,229.6 L176.1,232.2 L173.5,234.8 L170.9,232.2 Z" fill="#1b1bd0"/>
<path d="M201.8,233.4 L204.4,236.0 L201.8,238.6 L199.2,236.0 Z" fill="#1b1bd0"/>
<path d="M205.7,237.8 L210.9,237.8 L208.3,242.4 Z" fill="#1a7a1a"/>
<path d="M208.2,239.1 L213.4,239.1 L210.8,243.6 Z" fill="#1a7a1a"/>
<path d="M212.1,242.2 L217.3,242.2 L214.7,246.7 Z" fill="#1a7a1a"/>
<path d="M221.9,255.5 L227.1,255.5 L224.5,251.0 Z" fill="#d82020"/>
<path d="M224.5,256.4 L229.7,256.4 L227.1,251.8 Z" fill="#d82020"/>
<path d="M226.3,255.8 L231.5,255.8 L228.9,251.2 Z" fill="#d82020"/>
<path d="M227.8,252.4 L232.6,252.4 L230.2,256.6 Z" fill="#1a7a1a"/>
<rect x="61.5" y="200.3" width="206.0" height="161.3" fill="none" stroke="#222" stroke-width="1.2"/>
<path d="M285.2,229.3 L290.4,229.3 L287.8,224.8 Z" fill="#e8282a"/>
<rect x="285.8" y="235.2" width="4.0" height="4.0" fill="#8c8a2a"/>
<path d="M285.2,245.2 L290.4,245.2 L287.8,249.7 Z" fill="#1a7a1a"/>
<path d="M287.8,254.1 L290.6,256.9 L287.8,259.8 L285.0,256.9 Z" fill="#1b1bd0"/>
<circle cx="287.8" cy="266.8" r="2.2" fill="#7a1a8a"/>
<line x1="278.6" y1="276.6" x2="297.0" y2="276.6" stroke="#e8282a" stroke-width="1.4" />
<line x1="278.6" y1="286.5" x2="297.0" y2="286.5" stroke="#8c8a2a" stroke-width="1.3" stroke-dasharray="4.5,5"/>
<line x1="278.6" y1="296.4" x2="297.0" y2="296.4" stroke="#111" stroke-width="1.4" />
<line x1="278.6" y1="306.2" x2="297.0" y2="306.2" stroke="#1b1bd0" stroke-width="1.4" />
<line x1="278.6" y1="316.1" x2="297.0" y2="316.1" stroke="#2f8f3f" stroke-width="1.4" />
<line x1="278.6" y1="325.9" x2="297.0" y2="325.9" stroke="#f0922e" stroke-width="1.4" />
<text x="298.8" y="230.3" font-size="8.05" text-anchor="start" fill="#1a1a1a"  stroke="#1a1a1a" stroke-width="0.35">Biegalski et al. exp</text>
<text x="298.8" y="240.2" font-size="8.05" text-anchor="start" fill="#1a1a1a"  stroke="#1a1a1a" stroke-width="0.35">Daumont et al. exp</text>
<text x="298.8" y="250.0" font-size="8.05" text-anchor="start" fill="#1a1a1a"  stroke="#1a1a1a" stroke-width="0.35">Jang et al. exp</text>
<text x="298.8" y="259.8" font-size="8.05" text-anchor="start" fill="#1a1a1a"  stroke="#1a1a1a" stroke-width="0.35">Kim et al. exp</text>
<text x="298.8" y="269.7" font-size="8.05" text-anchor="start" fill="#1a1a1a"  stroke="#1a1a1a" stroke-width="0.35">Zhang et al. exp</text>
<text x="298.8" y="279.5" font-size="8.05" text-anchor="start" fill="#1a1a1a"  stroke="#1a1a1a" stroke-width="0.35">Biegalski et al. thermo calcs</text>
<text x="298.8" y="289.4" font-size="8.05" text-anchor="start" fill="#1a1a1a"  stroke="#1a1a1a" stroke-width="0.35">Daumont et al. LDA+U</text>
<text x="298.8" y="299.2" font-size="8.05" text-anchor="start" fill="#1a1a1a"  stroke="#1a1a1a" stroke-width="0.35">Dupé et al. LDA+U</text>
<text x="298.8" y="309.1" font-size="8.05" text-anchor="start" fill="#1a1a1a"  stroke="#1a1a1a" stroke-width="0.35">Hatt et al. LDA+U</text>
<text x="298.8" y="318.9" font-size="8.05" text-anchor="start" fill="#1a1a1a"  stroke="#1a1a1a" stroke-width="0.35">Jang et al. thermo calcs</text>
<text x="298.8" y="328.8" font-size="8.05" text-anchor="start" fill="#1a1a1a"  stroke="#1a1a1a" stroke-width="0.35">Wojdel et al. LDA+U</text>
<text x="405.4" y="244.6" font-size="12.5" text-anchor="start" fill="#111"  stroke="#111" stroke-width="0.35">(d)</text>
<line x1="439.0" y1="285.0" x2="504.1" y2="285.1" stroke="#c6c9e4" stroke-width="1" />
<line x1="504.1" y1="285.1" x2="504.1" y2="361.1" stroke="#c6c9e4" stroke-width="1" />
<line x1="504.1" y1="361.1" x2="439.0" y2="361.1" stroke="#c6c9e4" stroke-width="1" />
<line x1="439.0" y1="361.1" x2="439.0" y2="285.0" stroke="#c6c9e4" stroke-width="1" />
<line x1="476.5" y1="249.1" x2="541.2" y2="248.8" stroke="#c6c9e4" stroke-width="1" />
<line x1="541.2" y1="248.8" x2="541.2" y2="324.0" stroke="#c6c9e4" stroke-width="1" />
<line x1="541.2" y1="324.0" x2="476.5" y2="324.0" stroke="#c6c9e4" stroke-width="1" />
<line x1="476.5" y1="324.0" x2="476.5" y2="249.1" stroke="#c6c9e4" stroke-width="1" />
<line x1="439.0" y1="285.0" x2="476.5" y2="249.1" stroke="#c6c9e4" stroke-width="1" />
<line x1="504.1" y1="285.1" x2="541.2" y2="248.8" stroke="#c6c9e4" stroke-width="1" />
<line x1="439.0" y1="361.1" x2="476.5" y2="324.0" stroke="#c6c9e4" stroke-width="1" />
<line x1="504.1" y1="361.1" x2="541.2" y2="324.0" stroke="#c6c9e4" stroke-width="1" />
<line x1="439.0" y1="285.0" x2="541.2" y2="248.8" stroke="#c6c9e4" stroke-width="0.8" stroke-dasharray="1.5,1.5"/>
<line x1="439.0" y1="361.0" x2="439.2" y2="293.0" stroke="#1616a0" stroke-width="2.1" />
<path d="M439.2,284.6 L444.0,296.6 L439.2,293.6 L434.4,296.6 Z" fill="#1616a0"/>
<line x1="439.0" y1="361.0" x2="452.1" y2="292.8" stroke="#aa1620" stroke-width="2.1" />
<path d="M453.7,284.6 L456.1,297.3 L452.0,293.4 L446.7,295.5 Z" fill="#aa1620"/>
<line x1="439.0" y1="361.0" x2="512.4" y2="262.9" stroke="#aa1620" stroke-width="2.1" />
<path d="M517.4,256.2 L514.1,268.7 L512.0,263.4 L506.4,262.9 Z" fill="#aa1620"/>
<line x1="439.0" y1="361.0" x2="535.4" y2="254.7" stroke="#1616a0" stroke-width="2.1" />
<path d="M541.0,248.5 L536.5,260.6 L535.0,255.2 L529.4,254.2 Z" fill="#1616a0"/>
<line x1="439.0" y1="361.0" x2="534.8" y2="274.2" stroke="#aa1620" stroke-width="2.1" />
<path d="M541.0,268.6 L535.3,280.2 L534.3,274.6 L528.9,273.1 Z" fill="#aa1620"/>
<line x1="439.0" y1="361.0" x2="533.4" y2="326.7" stroke="#1616a0" stroke-width="2.1" />
<path d="M541.3,323.8 L531.7,332.4 L532.8,326.9 L528.4,323.4 Z" fill="#1616a0"/>
<text transform="translate(411.3,284.2) scale(1.13,1)" font-size="15" fill="#1616a0" stroke="#1616a0" stroke-width="0.2">P</text>
<text x="423.8" y="287.6" font-size="10.6" fill="#1616a0" stroke="#1616a0" stroke-width="0.15">T</text>
<text transform="translate(458.4,284.2) scale(1.13,1)" font-size="15" fill="#aa1620" stroke="#aa1620" stroke-width="0.2">P</text>
<text x="468.2" y="287.6" font-size="10.6" fill="#aa1620" stroke="#aa1620" stroke-width="0.15">M</text>
<text x="476.3" y="290.8" font-size="10" fill="#aa1620" stroke="#aa1620" stroke-width="0.15">C</text>
<text transform="translate(492.4,243.6) scale(1.13,1)" font-size="15" fill="#aa1620" stroke="#aa1620" stroke-width="0.2">P</text>
<text x="503.2" y="247.0" font-size="10.6" fill="#aa1620" stroke="#aa1620" stroke-width="0.15">M</text>
<text x="511.4" y="250.2" font-size="10" fill="#aa1620" stroke="#aa1620" stroke-width="0.15">A</text>
<text transform="translate(546.7,243.8) scale(1.13,1)" font-size="15" fill="#1616a0" stroke="#1616a0" stroke-width="0.2">P</text>
<text x="556.4" y="247.2" font-size="10.6" fill="#1616a0" stroke="#1616a0" stroke-width="0.15">R</text>
<text transform="translate(546.7,272.8) scale(1.13,1)" font-size="15" fill="#aa1620" stroke="#aa1620" stroke-width="0.2">P</text>
<text x="557.7" y="276.2" font-size="10.6" fill="#aa1620" stroke="#aa1620" stroke-width="0.15">M</text>
<text x="566.0" y="279.4" font-size="10" fill="#aa1620" stroke="#aa1620" stroke-width="0.15">B</text>
<text transform="translate(546.4,329.5) scale(1.13,1)" font-size="15" fill="#1616a0" stroke="#1616a0" stroke-width="0.2">P</text>
<text x="556.1" y="333.1" font-size="10.6" fill="#1616a0" stroke="#1616a0" stroke-width="0.15">O</text>
</svg>
</body></html>
